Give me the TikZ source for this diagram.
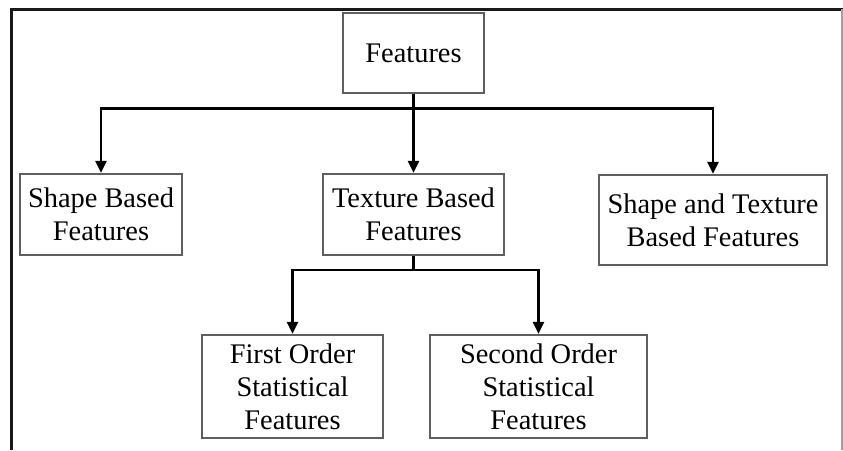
\documentclass[tikz,border=0pt]{standalone}
\usepackage{fontspec}
\setmainfont{Liberation Serif}
\usetikzlibrary{arrows.meta}
\definecolor{boxgray}{RGB}{95,95,95}
\definecolor{framegray}{RGB}{160,160,160}
\tikzset{
  fbox/.style={draw=boxgray, line width=1.3pt, inner sep=0pt, align=center,
    font=\fontsize{28.4}{33}\selectfont},
  conn/.style={line width=2.6pt, black},
  arr/.style={conn, -{Triangle[length=12pt,width=11pt]}, shorten >=0.6pt}
}
\begin{document}
\begin{tikzpicture}[x=1pt,y=-1pt]
\useasboundingbox (0,0) rectangle (843,450);
% outer frame
\draw[line width=3pt, black!90] (11,450) -- (11,9) -- (843,9);
\draw[line width=1.4pt, framegray] (842,9) -- (842,450);
% boxes
\node[fbox, minimum width=141pt, minimum height=80pt] (feat) at (413.5,53) {Features};
\node[fbox, minimum width=162pt, minimum height=81pt] (shape) at (101,214.5) {Shape Based\\Features};
\node[fbox, minimum width=181pt, minimum height=81pt] (tex) at (413.5,214.5) {Texture Based\\Features};
\node[fbox, minimum width=228pt, minimum height=90pt] (st) at (713,220) {Shape and Texture\\Based Features};
\node[fbox, minimum width=181pt, minimum height=103pt] (first) at (292.5,386.5) {First Order\\Statistical\\Features};
\node[fbox, minimum width=217pt, minimum height=103pt] (second) at (538.5,386.5) {Second Order\\Statistical\\Features};
% connectors
\coordinate (j1) at (413.5,108.5);
\coordinate (j2) at (413.5,270);
\draw[arr] (feat.south) -- (tex.north);
\draw[conn, line cap=rect] (shape.north |- j1) -- (st.north |- j1);
\draw[arr] ([xshift=0pt]shape.north |- j1) -- (shape.north);
\draw[arr] (st.north |- j1) -- (st.north);
\draw[conn] (tex.south) -- (j2);
\draw[conn, line cap=rect] (first.north |- j2) -- (second.north |- j2);
\draw[arr] (first.north |- j2) -- (first.north);
\draw[arr] (second.north |- j2) -- (second.north);
\end{tikzpicture}
\end{document}
